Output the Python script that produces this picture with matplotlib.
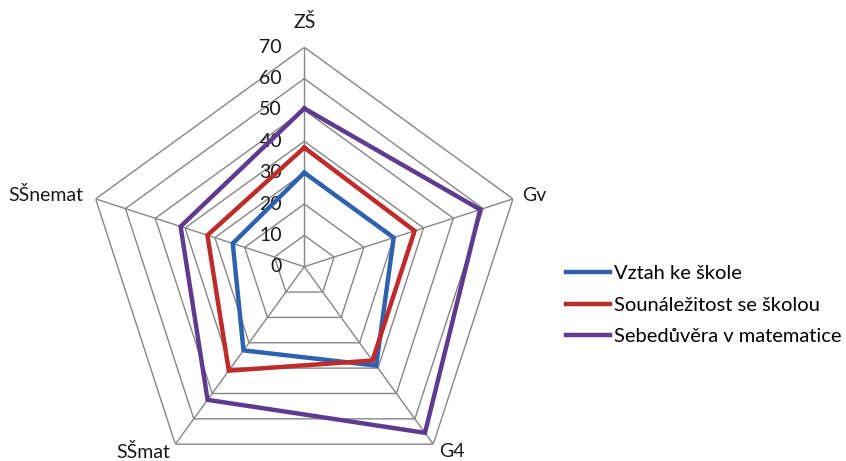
import numpy as np
import matplotlib as mpl
mpl.use("agg")
import matplotlib.pyplot as plt

plt.rcParams['font.family'] = ['Lato', 'DejaVu Sans']

# categories, clockwise from the top
categories = ['ZŠ', 'Gv', 'G4', 'SŠmat', 'SŠnemat']
series_names = ['Vztah ke škole', 'Sounáležitost se školou', 'Sebedůvěra v matematice']
vztah = [30, 30, 39, 33, 24]
sounalezitost = [38, 37, 37, 41, 32.5]
sebeduvera = [50.5, 59, 65.5, 52.5, 41.5]
r_ticks = [0, 10, 20, 30, 40, 50, 60, 70]

series = [vztah, sounalezitost, sebeduvera]
colors = ['#2e62b0', '#be2b2b', '#5f3b8f']

W, H, dpi = 846, 461, 100
fig = plt.figure(figsize=(W / dpi, H / dpi), dpi=dpi)

# polar axes placed so the 70 ring has radius ~219 px
cx, cy, rad = 304.3, 461 - 266.7, 219.4
ax = fig.add_axes([(cx - rad) / W, (cy - rad) / H, 2 * rad / W, 2 * rad / H],
                  projection='polar')
ax.set_theta_offset(np.pi / 2)
ax.set_theta_direction(-1)
ax.set_ylim(0, 70)
ax.grid(False)
ax.spines['polar'].set_visible(False)
ax.set_xticks([])
ax.set_yticks([])
ax.patch.set_alpha(0)

n = len(categories)
theta = np.arange(n) * 2 * np.pi / n
theta_closed = np.append(theta, theta[0])

# polygon grid and spokes
for r in r_ticks[1:]:
    ax.plot(theta_closed, [r] * (n + 1), color='#868686', lw=1.0, zorder=1)
for t in theta:
    ax.plot([t, t], [0, 70], color='#868686', lw=1.0, zorder=1)

# radial tick labels along the top spoke
for r in r_ticks:
    ax.annotate(str(r), xy=(0, r), xytext=(-16, 0), textcoords='offset points',
                ha='right', va='center', fontsize=14, color='#1a1a1a',
                annotation_clip=False)

# category labels
label_pos = [(78, 'center', 'center'), (73, 'left', 'center'),
             (73, 'left', 'center'), (73, 'right', 'center'),
             (74, 'right', 'center')]
for t, lab, (r, ha, va) in zip(theta, categories, label_pos):
    ax.text(t, r, lab, ha=ha, va=va, fontsize=14, color='#1a1a1a', clip_on=False)

# data series
for vals, col, name in zip(series, colors, series_names):
    ax.plot(theta_closed, list(vals) + [vals[0]], color=col, lw=3.2,
            label=name, zorder=3, solid_joinstyle='miter')

fig.legend(loc='center left', bbox_to_anchor=(566 / W, (461 - 305) / H),
           frameon=False, fontsize=14.5, handlelength=2.2, handletextpad=0.2,
           labelspacing=0.7, borderpad=0, borderaxespad=0)

fig.savefig('out.png', dpi=dpi)
